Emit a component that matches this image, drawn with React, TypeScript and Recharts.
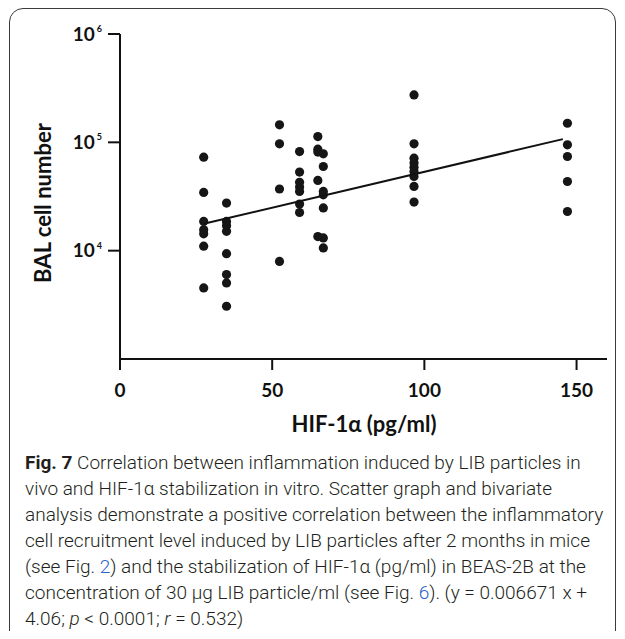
import { ScatterChart, Scatter, XAxis, YAxis } from 'recharts';

// HIF-1α level (pg/ml) of each group, and the BAL cell counts measured at it
const hifLevels = [27.5, 35, 52.4, 59, 65, 66.8, 96.6, 147];
const balCounts = [
  [73000, 34500, 18600, 15600, 14300, 11000, 4530],
  [27500, 18600, 17000, 15100, 9380, 6010, 5040, 3070],
  [145000, 96800, 37100, 7960],
  [82200, 53100, 42700, 38700, 35200, 26900, 22500],
  [113000, 86500, 81300, 44500, 13500],
  [78300, 59800, 35200, 32800, 24800, 13100, 10600],
  [274000, 96800, 71400, 64300, 59000, 53800, 48400, 39200, 28100],
  [150000, 94900, 74000, 43500, 23000],
];

// regression line end points as drawn
const fitX = [27.5, 145.5];
const fitY = [17700, 107000];

const xTicks = [0, 50, 100, 150];
const yTicks = [10000, 100000, 1000000];

const points = hifLevels.flatMap((x, i) => balCounts[i].map((y) => ({ x, y })));
const fitLine = fitX.map((x, i) => ({ x, y: fitY[i] }));

const INK = '#111';
const AXIS_FONT = 'Lato, "Open Sans", sans-serif';
const LINK = '#2a62c9';

function PowerTick({ x, y, payload }: any) {
  const exp = Math.round(Math.log10(payload.value));
  return (
    <text x={x} y={y} dy={6.5} textAnchor="end" fontFamily={AXIS_FONT} fontWeight={700} fontSize={19} fill={INK}>
      10
      <tspan dy={-8.5} dx={2} fontSize={9}>
        {exp}
      </tspan>
    </text>
  );
}

const Dot = (props: any) => <circle cx={props.cx} cy={props.cy} r={4.6} fill="#161616" />;

const lines = [
  <>
    <b style={{ fontWeight: 700 }}>Fig. 7</b> Correlation between inflammation induced by LIB particles in
  </>,
  <>vivo and HIF-1α stabilization in vitro. Scatter graph and bivariate</>,
  <>analysis demonstrate a positive correlation between the inflammatory</>,
  <>cell recruitment level induced by LIB particles after 2 months in mice</>,
  <>
    (see Fig. <span style={{ color: LINK }}>2</span>) and the stabilization of HIF-1α (pg/ml) in BEAS-2B at the
  </>,
  <>
    concentration of 30 μg LIB particle/ml (see Fig. <span style={{ color: LINK }}>6</span>). (y = 0.006671 x +
  </>,
  <>
    4.06; <i>p</i> &lt; 0.0001; <i>r</i> = 0.532)
  </>,
];

export default function App() {
  return (
    <div style={{ position: 'relative', width: 609, height: 623 }}>
      <div
        style={{
          position: 'absolute',
          left: 1,
          top: 0,
          width: 605,
          height: 660,
          border: '1.5px solid #3a3a3a',
          borderRadius: 14,
        }}
      />
      <div style={{ position: 'absolute', left: -8, top: -8 }}>
        <ScatterChart width={625} height={440} margin={{ top: 34, right: 18, bottom: 1, left: 0 }}>
          <XAxis
            type="number"
            dataKey="x"
            domain={[0, 160]}
            ticks={xTicks}
            height={80}
            stroke={INK}
            strokeWidth={2}
            tickSize={11}
            tickMargin={14}
            tick={{ fill: INK, fontFamily: AXIS_FONT, fontWeight: 700, fontSize: 19 }}
            label={{
              content: () => (
                <text x={364} y={432} textAnchor="middle" fontFamily={AXIS_FONT} fontWeight={700} fontSize={22} fill={INK}>
                  HIF-1α (pg/ml)
                </text>
              ),
            }}
          />
          <YAxis
            type="number"
            dataKey="y"
            scale="log"
            domain={[1000, 1000000]}
            allowDataOverflow
            ticks={yTicks}
            width={120}
            stroke={INK}
            strokeWidth={2}
            tickSize={12}
            tickMargin={6}
            tick={<PowerTick />}
            label={{
              content: () => (
                <text
                  x={51}
                  y={203}
                  transform="rotate(-90 51 203)"
                  textAnchor="middle"
                  fontFamily={AXIS_FONT}
                  fontWeight={700}
                  fontSize={22}
                  fill={INK}
                >
                  BAL cell number
                </text>
              ),
            }}
          />
          <Scatter data={points} shape={<Dot />} isAnimationActive={false} />
          <Scatter
            data={fitLine}
            line={{ stroke: INK, strokeWidth: 2 }}
            shape={() => <g />}
            isAnimationActive={false}
          />
        </ScatterChart>
      </div>
      <div
        style={{
          position: 'absolute',
          left: 17,
          top: 442,
          fontFamily: 'Roboto, sans-serif',
          fontWeight: 300,
          fontSize: 19,
          lineHeight: '26px',
          color: '#231f20',
          whiteSpace: 'nowrap',
        }}
      >
        {lines.map((l, i) => (
          <div key={i}>{l}</div>
        ))}
      </div>
    </div>
  );
}
